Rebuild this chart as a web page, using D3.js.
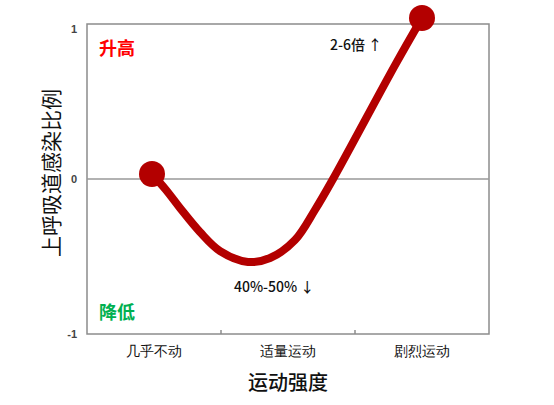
<!DOCTYPE html>
<html>
<head>
<meta charset="utf-8">
<script src="https://cdn.jsdelivr.net/npm/d3@7"></script>
<style>
  body { margin: 0; background: #fff; }
  svg { font-family: "Noto Sans CJK SC", "Noto Sans", sans-serif; }
</style>
</head>
<body>
<svg id="drawing_region"></svg>
<script>
// categories on the x axis
const categories = ['几乎不动', '适量运动', '剧烈运动'];
// curve: position in category units, relative infection rate
const curveX = [0.485, 0.590, 0.694, 0.843, 0.993, 1.201, 1.366, 1.552, 1.701, 1.836, 2.299, 2.500];
const curveY = [0.032, -0.071, -0.187, -0.342, -0.465, -0.535, -0.510, -0.394, -0.200, 0.000, 0.735, 1.039];
const yTicks = [-1, 0, 1];

const config = {
    parent: '#drawing_region',
    width: 554,
    height: 405,
    margin: { top: 24, right: 65, bottom: 71, left: 87 }
};

const svg = d3.select(config.parent)
    .attr('width', config.width)
    .attr('height', config.height);

const inner_width = config.width - config.margin.left - config.margin.right;
const inner_height = config.height - config.margin.top - config.margin.bottom;

const chart = svg.append('g')
    .attr('transform', `translate(${config.margin.left}, ${config.margin.top})`);

const xscale = d3.scaleLinear().domain([0, categories.length]).range([0, inner_width]);
const xband = d3.scaleBand().domain(categories).range([0, inner_width]);
const yscale = d3.scaleLinear().domain([-1, 1]).range([inner_height, 0]);

// frame
chart.append('rect')
    .attr('width', inner_width)
    .attr('height', inner_height)
    .attr('fill', 'none')
    .attr('stroke', '#8c8c8c')
    .attr('stroke-width', 1.5);

// zero line
chart.append('line')
    .attr('x1', 0).attr('x2', inner_width)
    .attr('y1', yscale(0)).attr('y2', yscale(0))
    .attr('stroke', '#999')
    .attr('stroke-width', 1.5);

// category boundary ticks
chart.selectAll('.sep').data([1, 2]).enter()
    .append('line')
    .attr('x1', d => xscale(d)).attr('x2', d => xscale(d))
    .attr('y1', inner_height).attr('y2', inner_height - 4)
    .attr('stroke', '#8c8c8c')
    .attr('stroke-width', 1.5);

// y axis labels
const yaxis = chart.append('g')
    .call(d3.axisLeft(yscale).tickValues(yTicks).tickSize(0).tickPadding(10).tickFormat(d => String(d)));
yaxis.select('.domain').remove();
yaxis.selectAll('text')
    .attr('font-family', 'Liberation Sans, Arial, sans-serif')
    .attr('font-size', 11)
    .attr('font-weight', 'bold')
    .attr('fill', '#444')
    .attr('dy', d => d === 1 ? '0.75em' : '0.35em');

// x axis labels
const xaxis = chart.append('g')
    .attr('transform', `translate(0, ${inner_height})`)
    .call(d3.axisBottom(xband).tickSize(0).tickPadding(12));
xaxis.select('.domain').remove();
xaxis.selectAll('text')
    .attr('font-size', 14)
    .attr('font-weight', 500)
    .attr('fill', '#111');

// axis titles
svg.append('text')
    .attr('x', config.margin.left + inner_width / 2)
    .attr('y', 390)
    .attr('text-anchor', 'middle')
    .attr('font-size', 20)
    .attr('font-weight', 500)
    .attr('fill', '#111')
    .text('运动强度');

svg.append('text')
    .attr('transform', `translate(59, 173) rotate(-90)`)
    .attr('text-anchor', 'middle')
    .attr('font-size', 21)
    .attr('fill', '#111')
    .text('上呼吸道感染比例');

// curve
const points = curveX.map((x, i) => [x, curveY[i]]);
const line = d3.line()
    .x(d => xscale(d[0]))
    .y(d => yscale(d[1]))
    .curve(d3.curveCatmullRom);

chart.append('path')
    .attr('d', line(points))
    .attr('fill', 'none')
    .attr('stroke', '#b30000')
    .attr('stroke-width', 8)
    .attr('stroke-linecap', 'round');

chart.selectAll('.end').data([points[0], points[points.length - 1]]).enter()
    .append('circle')
    .attr('cx', d => xscale(d[0]))
    .attr('cy', d => yscale(d[1]))
    .attr('r', 13)
    .attr('fill', '#b30000');

// annotations
chart.append('text')
    .attr('x', 12).attr('y', 31)
    .attr('font-size', 18)
    .attr('font-weight', 'bold')
    .attr('fill', '#ff0000')
    .text('升高');

chart.append('text')
    .attr('x', 12).attr('y', 295)
    .attr('font-size', 18)
    .attr('font-weight', 'bold')
    .attr('fill', '#00b050')
    .text('降低');

chart.append('text')
    .attr('x', 243).attr('y', 26)
    .attr('font-size', 14)
    .attr('font-weight', 500)
    .attr('fill', '#111')
    .text('2-6倍 ↑');

chart.append('text')
    .attr('x', 147).attr('y', 268)
    .attr('font-size', 14)
    .attr('font-weight', 500)
    .attr('fill', '#111')
    .text('40%-50% ↓');
</script>
</body>
</html>
